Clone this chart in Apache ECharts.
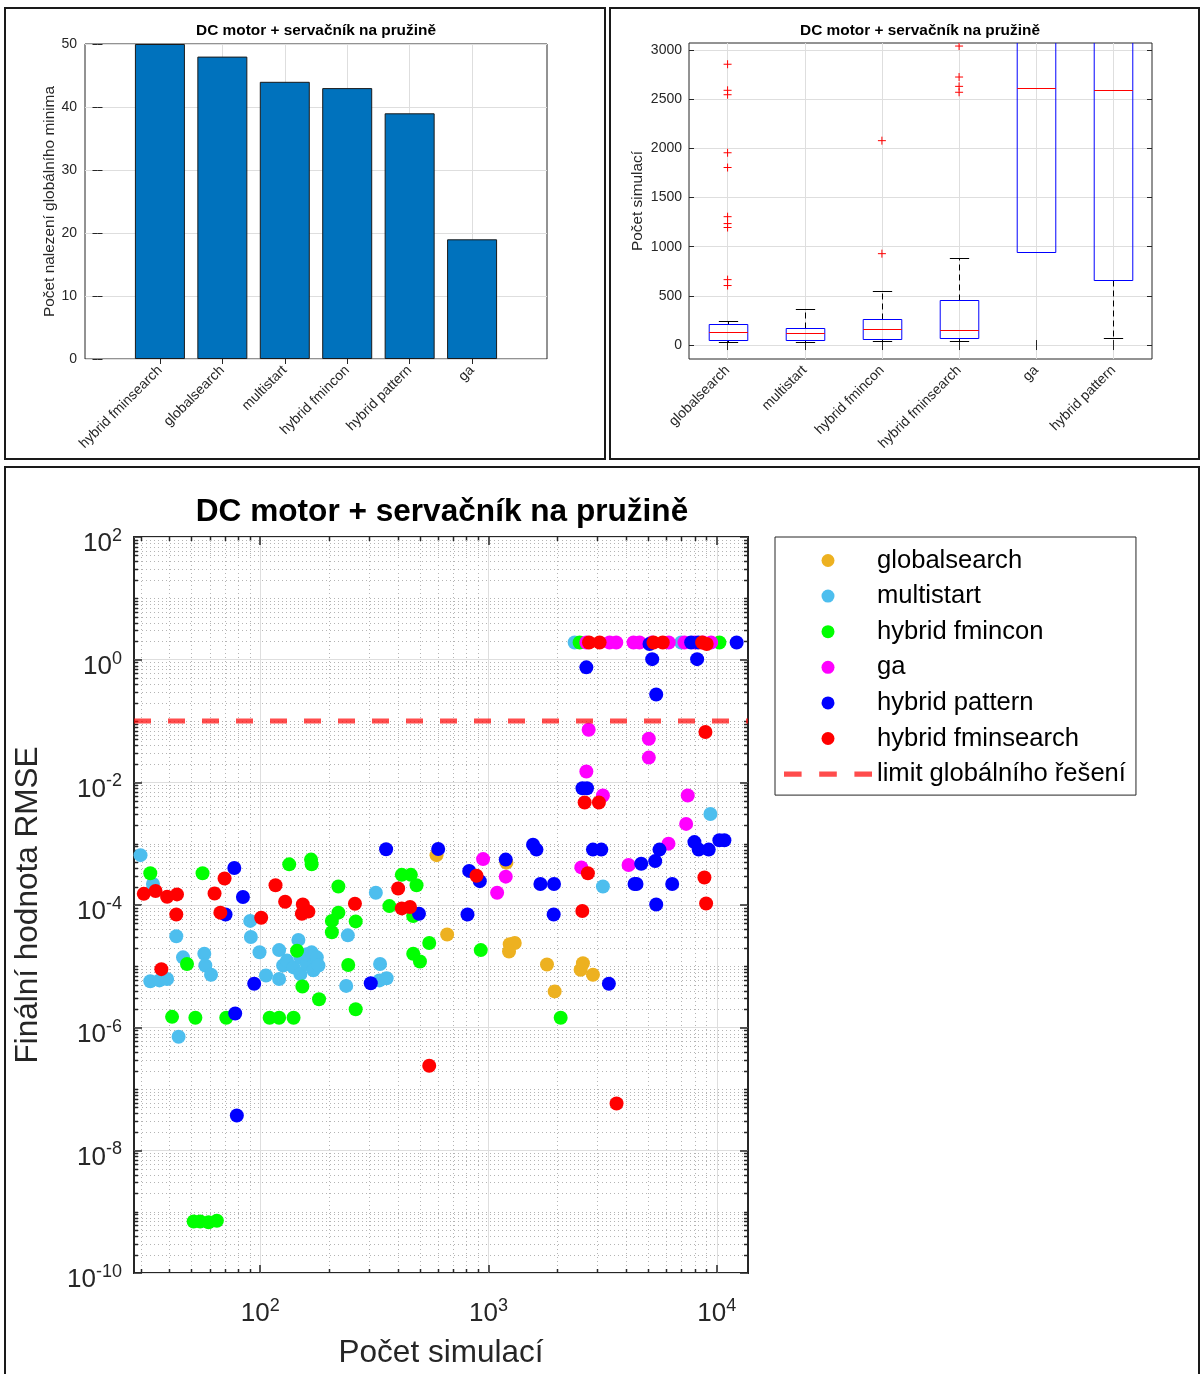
<!DOCTYPE html>
<html>
<head>
<meta charset="utf-8">
<script src="https://cdn.jsdelivr.net/npm/echarts@6/dist/echarts.min.js"></script>
<style>
  html, body { margin: 0; padding: 0; background: #ffffff; }
  #chart { width: 1201px; height: 1374px; }
</style>
</head>
<body>
<div id="chart"></div>
<script>
// ---- data ---------------------------------------------------------------
const chartTitle = 'DC motor + servačník na pružině';

// how many times each method reached the global minimum
const barCats = ['hybrid fminsearch', 'globalsearch', 'multistart', 'hybrid fmincon', 'hybrid pattern', 'ga'];
const barCounts = [50, 48, 44, 43, 39, 19];
const barTicks = [0, 10, 20, 30, 40, 50];

// number of simulations of successful runs: [lower whisker, Q1, median, Q3, upper whisker]
const boxCats = ['globalsearch', 'multistart', 'hybrid fmincon', 'hybrid fminsearch', 'ga', 'hybrid pattern'];
const boxStats = [
  [30, 54, 129, 214, 241],
  [30, 51, 122, 176, 363],
  [41, 64, 159, 264, 553],
  [37, 68, 156, 454, 885],
  [949, 949, 2614, 5040, 7460],
  [75, 661, 2597, 5400, 10800]
];
const boxOutliers = [
  [2855, 2590, 2545, 1955, 1805, 1305, 1235, 1195, 665, 605],
  [],
  [2078, 929],
  [3040, 2725, 2630, 2570],
  [],
  []
];
const boxTicks = [0, 500, 1000, 1500, 2000, 2500, 3000];

// final RMSE vs. number of simulations, one [simulations, rmse] pair per run
const methodNames = ['globalsearch', 'multistart', 'hybrid fmincon', 'ga', 'hybrid pattern', 'hybrid fminsearch'];
const methodColors = ['#EDB120', '#4DBEEE', '#00FF00', '#FF00FF', '#0000FF', '#FF0000'];

const globalsearchRuns = [
  [592, 6.5e-4], [659, 3.3e-5], [1198, 4.9e-4], [1239, 2.3e-5], [1303, 2.4e-5], [1230, 1.75e-5],
  [1804, 1.07e-5], [1949, 3.9e-6], [2592, 1.12e-5], [2533, 8.8e-6], [2868, 7.3e-6]
];
const multistartRuns = [
  [29.9, 6.5e-4], [33.9, 2.2e-4], [27.9, 2.4e-5], [42.9, 3.1e-5], [45.9, 1.4e-5], [33.0, 5.7e-6], [36.2, 5.9e-6], [39.1, 6.2e-6],
  [56.9, 1.6e-5], [57.5, 1.03e-5], [60.9, 7.3e-6], [43.9, 7.1e-7], [90.4, 5.5e-5], [91.0, 3.0e-5], [99.3, 1.7e-5], [106, 7.1e-6],
  [121, 1.84e-5], [121, 6.2e-6], [126, 1.03e-5], [131, 1.24e-5], [140, 9.6e-6], [147, 2.7e-5], [150, 1.4e-5], [150, 7.5e-6],
  [160, 1.09e-5], [160, 1.58e-5], [168, 1.69e-5], [171, 8.6e-6], [177, 1.4e-5], [180, 1.03e-5], [238, 4.8e-6], [242, 3.2e-5],
  [321, 1.58e-4], [333, 5.9e-6], [335, 1.09e-5], [358, 6.4e-6], [3171, 2.0e-4], [9376, 3.05e-3], [2384, 1.9], [6982, 1.9]
];
const fminconRuns = [
  [33.0, 3.3e-4], [41.1, 1.5e-6], [47.8, 1.09e-5], [52.0, 1.45e-6], [55.9, 3.3e-4], [71.0, 1.45e-6], [110, 1.45e-6], [121, 1.45e-6],
  [134, 4.6e-4], [140, 1.45e-6], [145, 1.8e-5], [153, 4.7e-6], [167, 5.5e-4], [168, 4.6e-4], [181, 2.9e-6], [206, 5.5e-5],
  [206, 3.6e-5], [220, 2.0e-4], [220, 7.5e-5], [243, 1.05e-5], [262, 5.4e-5], [262, 2.0e-6], [368, 9.6e-5], [417, 3.1e-4],
  [457, 3.1e-4], [468, 6.6e-5], [468, 1.6e-5], [484, 2.1e-4], [501, 1.2e-5], [550, 2.4e-5], [925, 1.84e-5], [2071, 1.45e-6],
  [51.1, 6.9e-10], [54.6, 6.9e-10], [59.4, 6.7e-10], [64.6, 7.1e-10], [2507, 1.9], [10266, 1.9]
];
const gaRuns = [
  [947, 5.6e-4], [1091, 1.58e-4], [1190, 2.9e-4], [2550, 4.1e-4], [2683, 0.015], [2746, 0.072], [3171, 6.1e-3], [4107, 4.5e-4],
  [5038, 0.0515], [5038, 0.0253], [6143, 1.0e-3], [7340, 2.1e-3], [7458, 6.1e-3],
  [2683, 1.9], [3392, 1.9], [3628, 1.9], [4318, 1.9], [4587, 1.9], [5200, 1.9], [6162, 1.9], [7217, 1.9], [8000, 1.9],
  [8700, 1.9], [9441, 1.9]
];
const patternRuns = [
  [70.5, 7.0e-5], [77.0, 4.0e-4], [77.7, 1.7e-6], [79, 3.7e-8], [84.0, 1.35e-4], [94.1, 5.2e-6], [305, 5.3e-6], [356, 8.1e-4],
  [496, 7.2e-5], [602, 8.2e-4], [809, 7.0e-5], [823, 3.6e-4], [916, 2.45e-4], [1190, 5.5e-4], [1567, 9.6e-4], [1622, 8.0e-4],
  [1688, 2.2e-4], [1930, 7.0e-5], [1936, 2.2e-4], [2580, 8.0e-3], [2700, 8.0e-3], [2683, 0.75], [2868, 8.0e-4], [3120, 8.0e-4],
  [3368, 5.2e-6], [4363, 2.2e-4], [4450, 2.2e-4], [4667, 4.7e-4], [5213, 1.02], [5373, 5.2e-4], [5428, 1.02e-4], [5428, 0.27],
  [5610, 8.0e-4], [6378, 2.2e-4], [7980, 1.06e-3], [8201, 1.02], [8333, 8.0e-4], [9218, 8.0e-4], [10266, 1.14e-3], [10796, 1.14e-3],
  [5073, 1.8], [7720, 1.9], [8292, 1.9], [12218, 1.9]
];
const fminsearchRuns = [
  [30.9, 1.52e-4], [34.8, 1.69e-4], [36.9, 9.0e-6], [39.1, 1.36e-4], [42.9, 7.0e-5], [43.2, 1.49e-4], [63.1, 1.54e-4], [66.9, 7.5e-5],
  [69.8, 2.7e-4], [101, 6.2e-5], [116.7, 2.1e-4], [128.6, 1.13e-4], [152.2, 7.2e-5], [153.7, 1.02e-4], [162.6, 7.8e-5], [260, 1.05e-4],
  [402, 1.86e-4], [417, 8.8e-5], [453, 9.3e-5], [550, 2.4e-7], [886, 3.0e-4], [2576, 8.0e-5], [2637, 4.7e-3], [2725, 3.3e-4],
  [3045, 4.7e-3], [3639, 5.8e-8], [8827, 2.8e-4], [8917, 0.066], [8980, 1.06e-4],
  [2755, 1.9], [3067, 1.9], [5283, 1.9], [5800, 1.9], [8625, 1.9], [9034, 1.8]
];
const methodRuns = [globalsearchRuns, multistartRuns, fminconRuns, gaRuns, patternRuns, fminsearchRuns];

const limitName = 'limit globálního řešení';
const limitRmse = 0.1;

// log axes of the RMSE plot
const simRange = [28, 13700];
const rmseRange = [1e-10, 1e2];
const simTicks = [1e2, 1e3, 1e4];
const rmseTicks = [1e-10, 1e-8, 1e-6, 1e-4, 1e-2, 1e0, 1e2];

// ---- styling helpers ----------------------------------------------------
const FONT = "'Liberation Sans', Arial, Helvetica, sans-serif";
const INK = '#262626';
const GRID_MAJOR = '#dedede';
const GRID_MINOR = '#b4b4b4';
const LIMIT_COLOR = 'rgba(255,0,0,0.7)';

// minor decade positions (2..9 x 10^k, plus the unlabelled odd decades)
function minorValues(range, majors) {
  const out = [];
  const k0 = Math.floor(Math.log10(range[0]));
  const k1 = Math.ceil(Math.log10(range[1]));
  for (let k = k0; k <= k1; k++) {
    for (let m = 1; m <= 9; m++) {
      const v = Number((m * Math.pow(10, k)).toPrecision(3));
      if (v < range[0] || v > range[1]) continue;
      if (majors.some(t => Math.abs(t - v) / v < 1e-6)) continue;
      out.push(v);
    }
  }
  return out;
}
const simMinor = minorValues(simRange, simTicks);
const rmseMinor = minorValues(rmseRange, rmseTicks);

function powLabel(v) {
  const e = Math.round(Math.log10(v));
  return '{b|10}{s|' + e + '}';
}
const powRich = {
  b: { fontSize: 26, fontFamily: FONT, color: INK, lineHeight: 30, verticalAlign: 'bottom' },
  s: { fontSize: 18, fontFamily: FONT, color: INK, lineHeight: 13, verticalAlign: 'top' }
};

function mirrorAxis(base, position) {
  return Object.assign({}, base, {
    position: position,
    name: '',
    axisLabel: { show: false },
    splitLine: { show: false }
  });
}

// ---- custom renderers ---------------------------------------------------
function renderBox(params, api) {
  const c = api.value(0);
  const lo = api.value(1), q1 = api.value(2), med = api.value(3), q3 = api.value(4), hi = api.value(5);
  const band = api.size([1, 0])[0];
  const half = band * 0.25, capHalf = band * 0.125;
  const cx = Math.round(api.coord([c, 0])[0]) + 0.5;
  const y = v => Math.round(api.coord([c, v])[1]) + 0.5;
  const dash = { stroke: '#000000', lineWidth: 1, lineDash: [6, 4] };
  const solid = { stroke: '#000000', lineWidth: 1 };
  return {
    type: 'group',
    children: [
      { type: 'line', shape: { x1: cx, y1: y(q3), x2: cx, y2: y(hi) }, style: dash },
      { type: 'line', shape: { x1: cx, y1: y(q1), x2: cx, y2: y(lo) }, style: dash },
      { type: 'line', shape: { x1: cx - capHalf, y1: y(hi), x2: cx + capHalf, y2: y(hi) }, style: solid },
      { type: 'line', shape: { x1: cx - capHalf, y1: y(lo), x2: cx + capHalf, y2: y(lo) }, style: solid },
      { type: 'rect', shape: { x: cx - half, y: y(q3), width: 2 * half, height: y(q1) - y(q3) },
        style: { fill: 'none', stroke: '#0000FF', lineWidth: 1 } },
      { type: 'line', shape: { x1: cx - half, y1: y(med), x2: cx + half, y2: y(med) },
        style: { stroke: '#FF0000', lineWidth: 1 } }
    ]
  };
}

function renderPlus(params, api) {
  const p = api.coord([api.value(0), api.value(1)]);
  const r = 4;
  const st = { stroke: '#FF0000', lineWidth: 1 };
  return {
    type: 'group',
    children: [
      { type: 'line', shape: { x1: p[0] - r, y1: p[1], x2: p[0] + r, y2: p[1] }, style: st },
      { type: 'line', shape: { x1: p[0], y1: p[1] - r, x2: p[0], y2: p[1] + r }, style: st }
    ]
  };
}

function renderMinorGrid(params, api) {
  const kids = [];
  const dotted = { stroke: GRID_MINOR, lineWidth: 1, lineDash: [1, 3] };
  const tick = { stroke: INK, lineWidth: 1.5 };
  const len = 4;
  simMinor.forEach(v => {
    const b = api.coord([v, rmseRange[0]]);
    const t = api.coord([v, rmseRange[1]]);
    const x = Math.round(b[0]) + 0.5;
    kids.push({ type: 'line', shape: { x1: x, y1: t[1], x2: x, y2: b[1] }, style: dotted });
    kids.push({ type: 'line', shape: { x1: x, y1: b[1], x2: x, y2: b[1] - len }, style: tick });
    kids.push({ type: 'line', shape: { x1: x, y1: t[1], x2: x, y2: t[1] + len }, style: tick });
  });
  rmseMinor.forEach(v => {
    const l = api.coord([simRange[0], v]);
    const r = api.coord([simRange[1], v]);
    const yy = Math.round(l[1]) + 0.5;
    kids.push({ type: 'line', shape: { x1: l[0], y1: yy, x2: r[0], y2: yy }, style: dotted });
    kids.push({ type: 'line', shape: { x1: l[0], y1: yy, x2: l[0] + len, y2: yy }, style: tick });
    kids.push({ type: 'line', shape: { x1: r[0], y1: yy, x2: r[0] - len, y2: yy }, style: tick });
  });
  return { type: 'group', children: kids };
}

// ---- axes ---------------------------------------------------------------
const barPos = barCats.map((_, i) => i + 1);
const boxPos = boxCats.map((_, i) => i + 1);

const smallTick = { show: true, inside: true, length: 5, lineStyle: { color: INK, width: 1 } };
const smallLabel = { fontSize: 14, fontFamily: FONT, color: INK };
const plainNumber = v => String(v);

const barX = {
  gridIndex: 0, type: 'value', min: -0.2, max: 7.2,
  axisLine: { show: false },
  axisTick: Object.assign({ customValues: barPos }, smallTick),
  axisLabel: Object.assign({ customValues: barPos, rotate: 45, margin: 9, padding: [12, 0, 0, 0],
    formatter: v => barCats[Math.round(v) - 1] }, smallLabel),
  splitLine: { show: true, lineStyle: { color: GRID_MAJOR } }
};
const barY = {
  gridIndex: 0, type: 'value', min: 0, max: 50,
  axisLine: { show: false },
  axisTick: Object.assign({ customValues: barTicks }, smallTick),
  axisLabel: Object.assign({ customValues: barTicks, margin: 8, formatter: plainNumber }, smallLabel),
  splitLine: { show: true, lineStyle: { color: GRID_MAJOR } },
  name: 'Počet nalezení globálního minima', nameLocation: 'middle', nameGap: 27,
  nameTextStyle: { fontSize: 15.4, fontFamily: FONT, color: INK }
};
const boxX = {
  gridIndex: 1, type: 'value', min: 0.5, max: 6.5,
  axisLine: { show: false },
  axisTick: Object.assign({ customValues: boxPos }, smallTick),
  axisLabel: Object.assign({ customValues: boxPos, rotate: 45, margin: 9, padding: [12, 0, 0, 0],
    formatter: v => boxCats[Math.round(v) - 1] }, smallLabel),
  splitLine: { show: true, lineStyle: { color: GRID_MAJOR } }
};
const boxY = {
  gridIndex: 1, type: 'value', min: -142, max: 3071,
  axisLine: { show: false },
  axisTick: Object.assign({ customValues: boxTicks }, smallTick),
  axisLabel: Object.assign({ customValues: boxTicks, margin: 7, formatter: plainNumber }, smallLabel),
  splitLine: { show: true, lineStyle: { color: GRID_MAJOR } },
  name: 'Počet simulací', nameLocation: 'middle', nameGap: 44,
  nameTextStyle: { fontSize: 15.4, fontFamily: FONT, color: INK }
};
const bigTick = { show: true, inside: true, length: 8, lineStyle: { color: INK, width: 1.5 } };
const simX = {
  gridIndex: 2, type: 'log', logBase: 10, min: simRange[0], max: simRange[1],
  axisLine: { show: false },
  axisTick: Object.assign({ customValues: simTicks }, bigTick),
  axisLabel: { customValues: simTicks, formatter: powLabel, rich: powRich, margin: 24 },
  splitLine: { show: true, lineStyle: { color: GRID_MAJOR } },
  name: 'Počet simulací', nameLocation: 'middle', nameGap: 64,
  nameTextStyle: { fontSize: 31.5, fontFamily: FONT, color: INK }
};
const rmseY = {
  gridIndex: 2, type: 'log', logBase: 10, min: rmseRange[0], max: rmseRange[1],
  axisLine: { show: false },
  axisTick: Object.assign({ customValues: rmseTicks }, bigTick),
  axisLabel: { customValues: rmseTicks, formatter: powLabel, rich: powRich, margin: 12, padding: [10, 0, 0, 0] },
  splitLine: { show: true, lineStyle: { color: GRID_MAJOR } },
  name: 'Finální hodnota RMSE', nameLocation: 'middle', nameGap: 90,
  nameTextStyle: { fontSize: 31.5, fontFamily: FONT, color: INK }
};

// ---- series -------------------------------------------------------------
const series = [
  {
    type: 'bar', xAxisIndex: 0, yAxisIndex: 0, barWidth: 50,
    data: barCats.map((c, i) => [i + 1, barCounts[i]]),
    itemStyle: { color: '#0072BD', borderColor: '#1a1a1a', borderWidth: 1 },
    silent: true
  },
  {
    type: 'custom', xAxisIndex: 2, yAxisIndex: 2, clip: true, silent: true,
    data: boxStats.map((s, i) => [i + 1].concat(s)),
    encode: { x: 0, y: [1, 2, 3, 4, 5] },
    renderItem: renderBox
  },
  {
    type: 'custom', xAxisIndex: 2, yAxisIndex: 2, clip: true, silent: true,
    data: boxOutliers.flatMap((list, i) => list.map(v => [i + 1, v])),
    encode: { x: 0, y: 1 },
    renderItem: renderPlus
  },
  {
    type: 'custom', xAxisIndex: 4, yAxisIndex: 4, silent: true, z: 1,
    data: [[1000, 1]],
    encode: { x: 0, y: 1 },
    renderItem: renderMinorGrid
  }
];
methodNames.forEach((name, i) => {
  series.push({
    type: 'scatter', name: name, xAxisIndex: 4, yAxisIndex: 4,
    symbol: 'circle', symbolSize: 14,
    itemStyle: { color: methodColors[i], opacity: 1 },
    data: methodRuns[i],
    silent: true
  });
});
series.push({
  type: 'line', name: limitName, xAxisIndex: 4, yAxisIndex: 4,
  symbol: 'none', showSymbol: false, silent: true,
  lineStyle: { color: LIMIT_COLOR, width: 5, type: [17, 17] },
  itemStyle: { color: LIMIT_COLOR },
  data: [[simRange[0], limitRmse], [simRange[1], limitRmse]]
});

// ---- chart --------------------------------------------------------------
const frame = (x, y, w, h) => ({
  type: 'rect', silent: true, z: 100,
  shape: { x: x, y: y, width: w, height: h },
  style: { fill: 'none', stroke: '#1a1a1a', lineWidth: 2 }
});
const heading = (x, y, size) => ({
  type: 'text', silent: true, x: x, y: y, z: 100,
  style: { text: chartTitle, fontSize: size, fontWeight: 'bold', fontFamily: FONT, fill: '#000000',
    align: 'center', verticalAlign: 'middle' }
});

// dashed legend key for the limit line: three dashes
const dashedKey = 'path://M0,0h17v5h-17z M34,0h17v5h-17z M68,0h17v5h-17z';

const option = {
  animation: false,
  backgroundColor: '#ffffff',
  textStyle: { fontFamily: FONT },
  grid: [
    { left: 85, top: 44, width: 462, height: 315, show: true, borderColor: INK, borderWidth: 1, backgroundColor: 'transparent' },
    { left: 689, top: 43, width: 463, height: 316, show: true, borderColor: INK, borderWidth: 1, backgroundColor: 'transparent' },
    { left: 134, top: 537, width: 614, height: 740, show: true, borderColor: INK, borderWidth: 2, backgroundColor: 'transparent' }
  ],
  xAxis: [barX, mirrorAxis(barX, 'top'), boxX, mirrorAxis(boxX, 'top'), simX, mirrorAxis(simX, 'top')],
  yAxis: [barY, mirrorAxis(barY, 'right'), boxY, mirrorAxis(boxY, 'right'), rmseY, mirrorAxis(rmseY, 'right')],
  legend: {
    data: methodNames.map(n => ({ name: n })).concat([{ name: limitName, icon: dashedKey }]),
    orient: 'vertical', left: 775, top: 537,
    padding: [10.5, 10, 8, 9],
    itemWidth: 88, itemHeight: 13, itemGap: 9.6,
    borderColor: INK, borderWidth: 1, backgroundColor: '#ffffff',
    textStyle: { fontSize: 25.6, fontFamily: FONT, color: '#000000', lineHeight: 26 },
    selectedMode: false
  },
  graphic: [
    frame(5, 8, 600, 451),
    frame(610, 8, 589, 451),
    frame(5, 467, 1194, 920),
    heading(316, 31, 15.4),
    heading(920, 31, 15.4),
    heading(442, 512, 31.6)
  ],
  series: series
};

const chart = echarts.init(document.getElementById('chart'), null, { renderer: 'canvas' });
chart.setOption(option);
</script>
</body>
</html>
